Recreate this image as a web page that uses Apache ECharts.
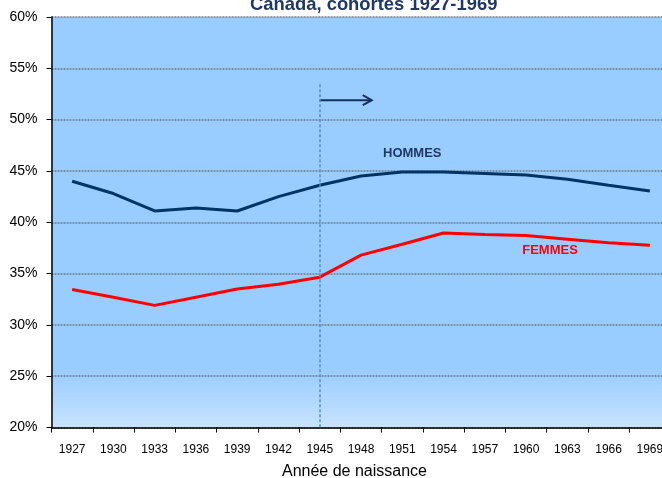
<!DOCTYPE html>
<html>
<head>
<meta charset="utf-8">
<script src="https://cdn.jsdelivr.net/npm/echarts@6/dist/echarts.min.js"></script>
<style>
  html, body { margin: 0; padding: 0; background: #fff; }
  #chart { width: 662px; height: 478px; }
</style>
</head>
<body>
<div id="chart"></div>
<script>
// birth cohorts (category axis)
var years = ['1927', '1930', '1933', '1936', '1939', '1942', '1945', '1948',
             '1951', '1954', '1957', '1960', '1963', '1966', '1969'];
// values in percent
var hommes = [44.0, 42.8, 41.1, 41.4, 41.1, 42.5, 43.6, 44.5, 44.9, 44.9, 44.75, 44.6, 44.2, 43.6, 43.05];
var femmes = [33.45, 32.7, 31.9, 32.7, 33.5, 33.95, 34.65, 36.8, 37.85, 38.95, 38.8, 38.7, 38.35, 38.0, 37.75];

var sans = '"Liberation Sans", Arial, sans-serif';
var navy = '#003366';

var chart = echarts.init(document.getElementById('chart'));

var option = {
    backgroundColor: '#ffffff',
    animation: false,
    title: {
        text: 'Canada, cohortes 1927-1969',
        left: 245,
        top: -9,
        textStyle: {
            fontFamily: sans,
            fontSize: 18.4,
            fontWeight: 'bold',
            color: '#1f3864'
        }
    },
    grid: {
        left: 51.5,
        top: 17,
        width: 619,
        height: 410.5,
        containLabel: false,
        outerBoundsMode: 'none',
        show: true,
        borderWidth: 0,
        backgroundColor: new echarts.graphic.LinearGradient(0, 0, 0, 1, [
            {offset: 0, color: '#99ccff'},
            {offset: 0.86, color: '#99ccff'},
            {offset: 1, color: '#c8e3ff'}
        ])
    },
    xAxis: {
        type: 'category',
        data: years,
        boundaryGap: true,
        name: 'Année de naissance',
        nameLocation: 'middle',
        nameGap: 36,
        nameTextStyle: {
            fontFamily: sans,
            fontSize: 16,
            color: '#000',
            padding: [0, 13, 0, 0]
        },
        axisLine: {lineStyle: {color: '#000', width: 1.5}},
        axisTick: {show: true, length: 5, lineStyle: {color: '#000'}},
        axisLabel: {
            interval: 0,
            margin: 16,
            fontFamily: sans,
            fontSize: 12,
            color: '#000'
        },
        splitLine: {show: false}
    },
    yAxis: {
        type: 'value',
        min: 20,
        max: 60,
        interval: 5,
        axisLine: {show: true, lineStyle: {color: '#000', width: 1.5}},
        axisTick: {show: true, length: 5, lineStyle: {color: '#000'}},
        axisLabel: {
            formatter: '{value}%',
            margin: 14,
            fontFamily: sans,
            fontSize: 14,
            color: '#000'
        },
        splitLine: {
            show: true,
            lineStyle: {color: '#6f7f90', width: 1.5, type: [2, 1]}
        }
    },
    series: [
        {
            name: 'HOMMES',
            type: 'line',
            data: hommes,
            symbol: 'none',
            lineStyle: {color: navy, width: 3},
            markLine: {
                silent: true,
                symbol: 'none',
                label: {show: false},
                lineStyle: {color: '#5b8bc4', width: 1.5, type: [3, 2]},
                data: [[{coord: ['1945', 53.45]}, {coord: ['1945', 20]}]]
            }
        },
        {
            name: 'FEMMES',
            type: 'line',
            data: femmes,
            symbol: 'none',
            lineStyle: {color: '#ff0000', width: 3}
        }
    ]
};

chart.setOption(option);

// annotations: arrow after 1945, series labels
var p0 = chart.convertToPixel({xAxisIndex: 0, yAxisIndex: 0}, ['1945', 51.9]);
var ph = chart.convertToPixel({xAxisIndex: 0, yAxisIndex: 0}, ['1951', 46.75]);
var pf = chart.convertToPixel({xAxisIndex: 0, yAxisIndex: 0}, ['1960', 37.3]);
var arrowLen = 52;

chart.setOption({
    graphic: [
        {
            type: 'line',
            shape: {x1: p0[0], y1: p0[1], x2: p0[0] + arrowLen, y2: p0[1]},
            style: {stroke: '#16325c', lineWidth: 2}
        },
        {
            type: 'polyline',
            shape: {points: [[p0[0] + arrowLen - 9, p0[1] - 5], [p0[0] + arrowLen, p0[1]], [p0[0] + arrowLen - 9, p0[1] + 5]]},
            style: {stroke: '#16325c', lineWidth: 2, fill: null}
        },
        {
            type: 'text',
            x: ph[0] + 10,
            y: ph[1],
            style: {
                text: 'HOMMES',
                align: 'center',
                verticalAlign: 'middle',
                fill: '#1f3864',
                font: 'bold 13px ' + sans
            }
        },
        {
            type: 'text',
            x: pf[0] + 24,
            y: pf[1],
            style: {
                text: 'FEMMES',
                align: 'center',
                verticalAlign: 'middle',
                fill: '#ff0000',
                font: 'bold 13px ' + sans
            }
        }
    ]
});
</script>
</body>
</html>
